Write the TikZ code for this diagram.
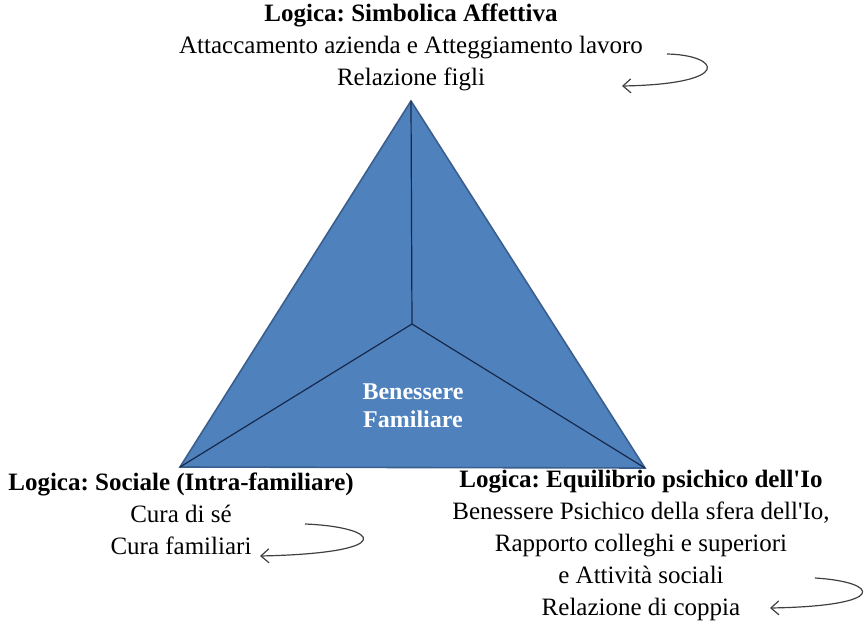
\documentclass[tikz,border=0pt]{standalone}
\usepackage{fontspec}
\setmainfont{Liberation Serif}
\usetikzlibrary{positioning,arrows.meta}
\definecolor{pyrblue}{HTML}{4F81BD}
\definecolor{pyredge}{HTML}{3A5F8E}
\definecolor{pyrline}{HTML}{17294A}
\definecolor{loopgray}{HTML}{404040}
\frenchspacing

\begin{document}
\begin{tikzpicture}[x=0.5pt,y=-0.5pt,
    logic/.style={align=center, inner sep=0pt,
        font=\fontsize{12.5}{16}\selectfont},
    core/.style={align=center, inner sep=0pt, text=white,
        font=\bfseries\fontsize{12}{14}\selectfont},
    face/.style={fill=pyrblue, draw=pyredge, line width=0.8pt,
        line join=miter},
    ridge/.style={draw=pyrline, line width=0.6pt},
    turn/.style={draw=loopgray, line width=0.6pt,
        -{Straight Barb[length=4pt,width=7pt]}}]
    \useasboundingbox (0,0) rectangle (864,622);

    % pyramid seen from above
    \coordinate (apex) at (411,101);
    \coordinate (bl) at (180,467);
    \coordinate (br) at (645,468);
    \coordinate (mid) at (412,324);
    \path[face] (apex) -- (br) -- (bl) -- cycle;
    \draw[ridge] (mid) -- (apex);
    \draw[ridge] (mid) -- (bl);
    \draw[ridge] (mid) -- (br);

    \node[core] (wellbeing) at (413,406) {Benessere\\Familiare};

    % the three logics
    \node[logic] (affect) at (411,47)
        {\textbf{Logica: Simbolica Affettiva}\\
         Attaccamento azienda e Atteggiamento lavoro\\
         Relazione figli};
    \node[logic] (social) at (181,514)
        {\textbf{Logica: Sociale (Intra-familiare)}\\
         Cura di sé\\
         Cura familiari};
    \node[logic] (psyche) at (641,545)
        {\textbf{Logica: Equilibrio psichico dell\textquotesingle Io}\\
         Benessere Psichico della sfera dell\textquotesingle Io,\\
         Rapporto colleghi e superiori\\
         e Attività sociali\\
         Relazione di coppia};

    % loops
    \coordinate (affect-out) at (667,54);
    \coordinate (affect-in) at (622,86);
    \draw[turn] (affect-out) .. controls (720,55) and (735,84) .. (affect-in);
    \coordinate (social-out) at (305,524);
    \coordinate (social-in) at (260,556);
    \draw[turn] (social-out) .. controls (380,527) and (400,553) .. (social-in);
    \coordinate (psyche-out) at (815,578);
    \coordinate (psyche-in) at (770,608);
    \draw[turn] (psyche-out) .. controls (880,582) and (890,606) .. (psyche-in);
\end{tikzpicture}
\end{document}
